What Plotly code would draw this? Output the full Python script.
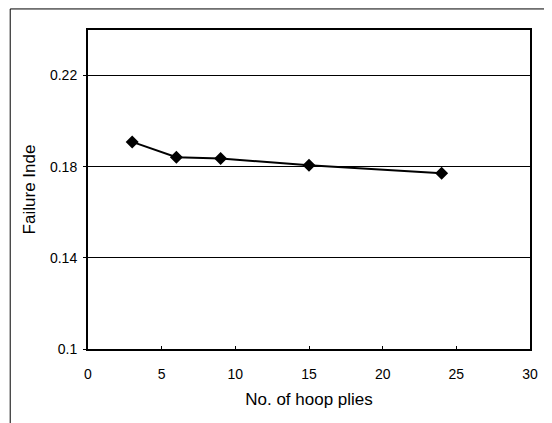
import plotly.graph_objects as go

plies = [3, 6, 9, 15, 24]
failure_index = [0.1909, 0.1842, 0.1836, 0.1806, 0.1771]

fig = go.Figure()

fig.add_trace(
    go.Scatter(
        x=plies,
        y=failure_index,
        mode="lines+markers",
        line=dict(color="black", width=2),
        marker=dict(symbol="diamond", size=10, color="black"),
        showlegend=False,
    )
)

fig.update_layout(
    width=552,
    height=423,
    margin=dict(l=80, r=30, t=22, b=82),
    paper_bgcolor="white",
    plot_bgcolor="white",
    font=dict(family="Liberation Sans, Arial, sans-serif", size=14, color="black"),
    xaxis=dict(
        title=dict(text="No. of hoop plies", standoff=12),
        range=[0, 30],
        tick0=0,
        dtick=5,
        showgrid=False,
        zeroline=False,
        showline=True,
        linecolor="black",
        linewidth=2,
        mirror=True,
        ticks="inside",
        ticklen=3,
        tickcolor="black",
        ticklabelstandoff=11,
        automargin=False,
    ),
    yaxis=dict(
        title=dict(text="Failure Inde", standoff=10),
        range=[0.1, 0.24],
        tick0=0.1,
        dtick=0.04,
        showgrid=True,
        gridcolor="black",
        gridwidth=1,
        zeroline=False,
        showline=True,
        linecolor="black",
        linewidth=2,
        mirror=True,
        ticks="outside",
        ticklen=3,
        tickcolor="black",
        ticklabelstandoff=3,
        automargin=False,
    ),
    # outer frame around the chart area
    shapes=[
        dict(
            type="rect",
            xref="paper",
            yref="paper",
            x0=-0.176,
            x1=1.0475,
            y0=-0.3,
            y1=1.066,
            line=dict(color="black", width=1),
        )
    ],
)

fig.write_html("out.html")
